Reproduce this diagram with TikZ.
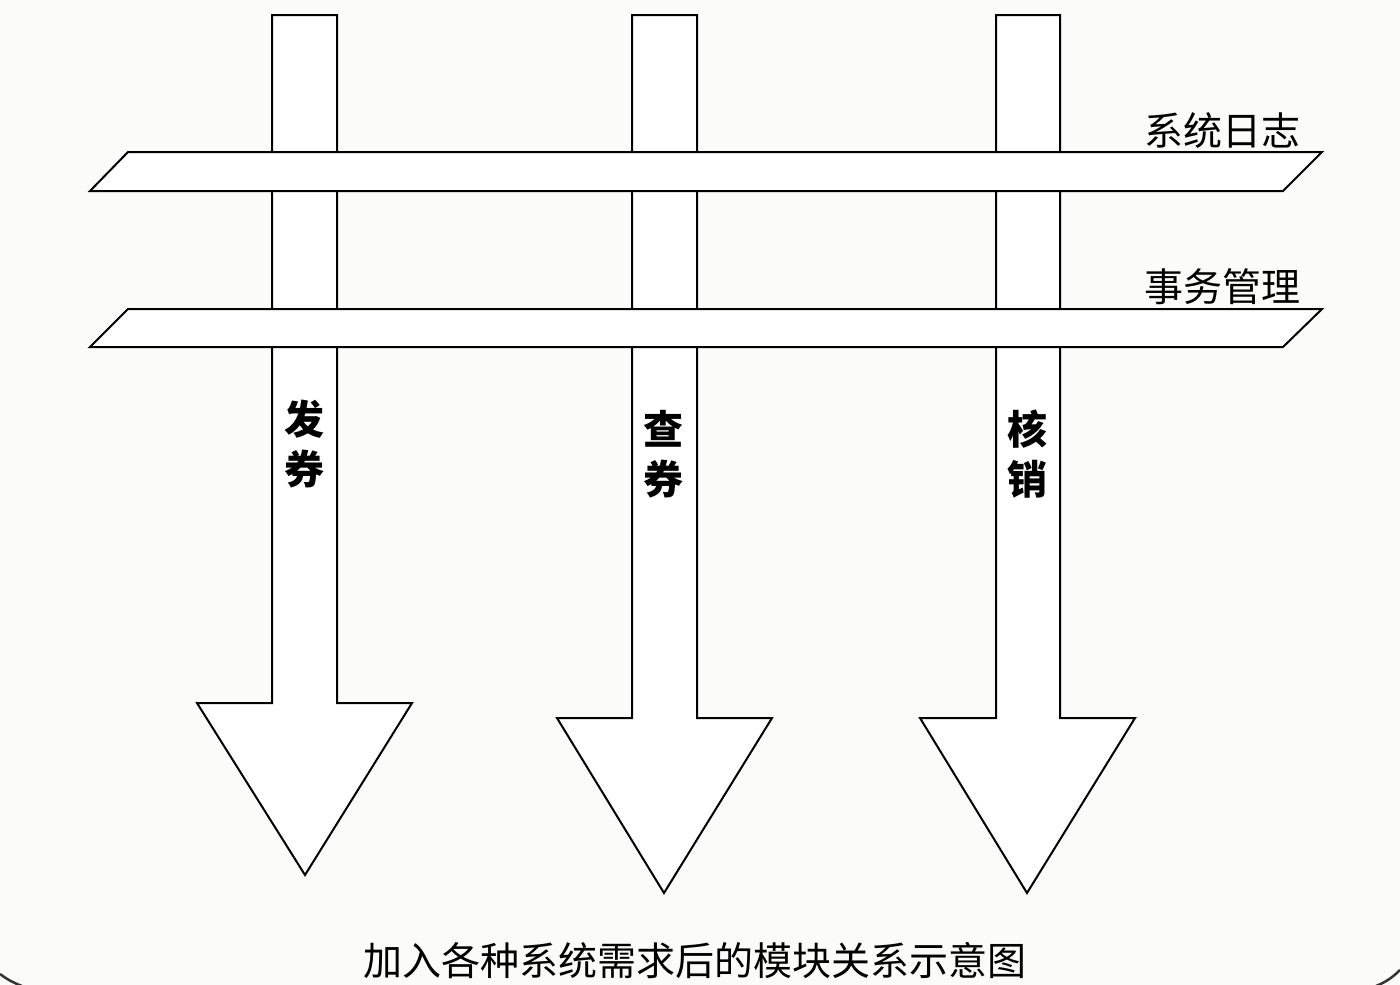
\documentclass[tikz,border=0pt]{standalone}
\usepackage{fontspec}
\newfontfamily\cjk{Noto Sans CJK SC}
\definecolor{bgc}{HTML}{FBFBF9}
\begin{document}
\begin{tikzpicture}[x=1pt,y=-1pt,
  outlined/.style={draw=black,fill=white,line width=2pt,line join=miter},
  arrowshape/.style={outlined},
  bandshape/.style={outlined},
  vlabel/.style={font=\cjk\bfseries\fontsize{40}{50}\selectfont,align=center,inner sep=0pt},
  blabel/.style={font=\cjk\fontsize{39}{46}\selectfont,inner sep=0pt},
  captext/.style={font=\cjk\fontsize{39}{46}\selectfont,inner sep=0pt}]
\fill[bgc] (0,0) rectangle (1400,985);
\useasboundingbox (0,0) rectangle (1400,985);
% arrows
\draw[arrowshape] (272,15) -- (337,15) -- (337,703) -- (412,703) -- (305,875) -- (197,703) -- (272,703) -- cycle;
\draw[arrowshape] (632,15) -- (697,15) -- (697,718) -- (772,718) -- (664,893) -- (557,718) -- (632,718) -- cycle;
\draw[arrowshape] (996,15) -- (1060,15) -- (1060,718) -- (1135,718) -- (1027,893) -- (920,718) -- (996,718) -- cycle;
% bands
\draw[bandshape] (128,152) -- (1322,152) -- (1283,191) -- (90,191) -- cycle;
\draw[bandshape] (128,309) -- (1322,309) -- (1283,347) -- (90,347) -- cycle;
% labels
\node[blabel] (log) at (1222,131) {系统日志};
\node[blabel] (tx) at (1222,287) {事务管理};
\node[vlabel] (a1) at (304,444) {发\\券};
\node[vlabel] (a2) at (663,454) {查\\券};
\node[vlabel] (a3) at (1027,454) {核\\销};
\node[captext] (cap) at (695,961) {加入各种系统需求后的模块关系示意图};
% frame corners
\draw[line width=2.5pt,black!80] (0,974) .. controls (8,980) and (14,983) .. (22,986);
\draw[line width=2.5pt,black!80] (1376,986) .. controls (1386,982) and (1393,977) .. (1400,970);
\end{tikzpicture}
\end{document}
